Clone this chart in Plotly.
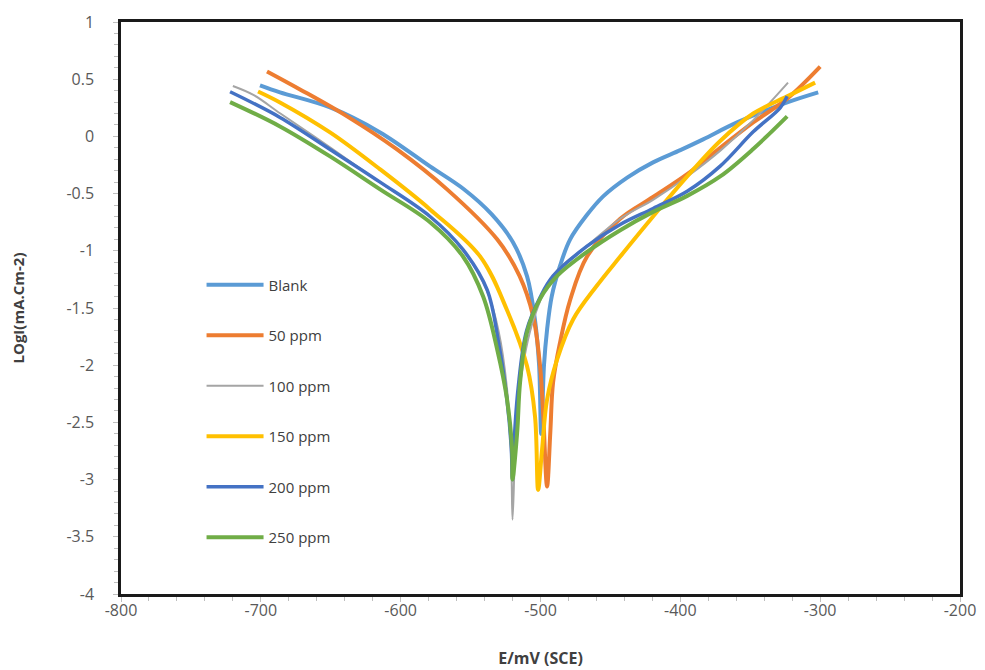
import plotly.graph_objects as go

names = ["Blank", "50 ppm", "100 ppm", "150 ppm", "200 ppm", "250 ppm"]
colors = ["#5B9BD5", "#ED7D31", "#A5A5A5", "#FFC000", "#4472C4", "#70AD47"]
widths = [4, 4, 2, 4, 3.5, 4]

x_ticks = [-800, -700, -600, -500, -400, -300, -200]
x_labels = ["-800", "-700", "-600", "-500", "-400", "-300", "-200"]
y_ticks = [1, 0.5, 0, -0.5, -1, -1.5, -2, -2.5, -3, -3.5, -4]
y_labels = ["1", "0.5", "0", "-0.5", "-1", "-1.5", "-2", "-2.5", "-3", "-3.5", "-4"]

blank_E = [-700.6, -686.3, -650.5, -614.7, -579, -555, -535, -519.6, -509.6, -504, -501, -499.5,
           -497.5, -495.3, -492, -486, -478.8, -467, -455.2, -438, -419.5, -400, -383.7, -359.4, -323.6, -301.4]
blank_L = [0.446, 0.385, 0.253, 0.035, -0.262, -0.46, -0.68, -0.927, -1.224, -1.6, -2.0, -2.6,
           -2.0, -1.69, -1.40, -1.13, -0.90, -0.69, -0.524, -0.36, -0.227, -0.12, -0.026, 0.122, 0.297, 0.385]

p50_E = [-695.6, -672, -638.3, -602.6, -566.8, -531, -515, -505.3, -500.3, -498, -495.3,
         -493, -491, -486, -478.8, -466.7, -443, -419.5, -395.1, -371.5, -347.9, -323.6, -300]
p50_L = [0.568, 0.411, 0.175, -0.114, -0.463, -0.9, -1.22, -1.57, -2.01, -2.45, -3.06,
         -2.59, -2.15, -1.80, -1.43, -1.05, -0.72, -0.53, -0.33, -0.10, 0.122, 0.33, 0.61]

p100_E = [-720, -705, -686, -650, -615, -579, -555, -538, -530, -524, -521, -520,
          -518, -515, -505, -490, -466, -443, -419, -395, -371, -348, -323]
p100_L = [0.44, 0.36, 0.20, -0.10, -0.40, -0.70, -1.0, -1.36, -1.7, -2.2, -2.8, -3.35,
          -2.7, -2.2, -1.6, -1.2, -0.95, -0.72, -0.55, -0.35, -0.12, 0.14, 0.47]

p150_E = [-702, -686.3, -650.5, -614.7, -579, -543.2, -523.9, -509.6, -503.9, -501.7,
          -498.9, -495.3, -488.1, -476.7, -460, -443, -419.5, -395.1, -371.5, -347.9, -323.6, -303.6]
p150_L = [0.393, 0.297, 0.035, -0.288, -0.638, -1.049, -1.52, -2.01, -2.45, -3.09,
          -2.74, -2.30, -1.95, -1.60, -1.31, -1.05, -0.70, -0.35, -0.04, 0.20, 0.35, 0.47]

p200_E = [-722, -686.3, -650.5, -614.7, -579, -555.4, -538.2, -530, -524, -521, -520,
          -519, -516, -510, -500, -491, -466.7, -443, -419.5, -395.1, -371.5, -347.9, -328.6, -323.6]
p200_L = [0.39, 0.166, -0.114, -0.40, -0.70, -0.99, -1.34, -1.8, -2.3, -2.7, -3.0,
          -2.7, -2.2, -1.7, -1.4, -1.22, -0.96, -0.77, -0.63, -0.48, -0.26, 0.04, 0.25, 0.35]

p250_E = [-722, -686.3, -650.5, -614.7, -579, -555.4, -541, -531, -523.9, -520.3, -520,
          -516.7, -514.6, -509.6, -500.3, -488.1, -466.7, -443, -419.5, -395.1, -371.5, -347.9, -323.6]
p250_L = [0.30, 0.087, -0.175, -0.463, -0.75, -1.05, -1.40, -1.86, -2.30, -2.74, -3.0,
          -2.59, -2.15, -1.71, -1.42, -1.22, -1.01, -0.82, -0.66, -0.52, -0.35, -0.11, 0.175]

series_E = [blank_E, p50_E, p100_E, p150_E, p200_E, p250_E]
series_L = [blank_L, p50_L, p100_L, p150_L, p200_L, p250_L]

fig = go.Figure()
for i, name in enumerate(names):
    fig.add_trace(go.Scatter(
        x=series_E[i], y=series_L[i], mode="lines", name=name,
        legendgroup=name,
        line=dict(color=colors[i], width=widths[i], shape="spline", smoothing=1.0),
    ))

font_main = "Open Sans, Liberation Sans, sans-serif"
fig.update_layout(
    width=977, height=662,
    margin=dict(l=113, r=25, t=14, b=76),
    paper_bgcolor="white", plot_bgcolor="white",
    font=dict(family=font_main, color="#595959", size=16),
    legend=dict(x=0.096, y=0.569, xanchor="left", yanchor="top",
                bgcolor="rgba(0,0,0,0)", tracegroupgap=28, itemwidth=57,
                font=dict(size=15, color="#404040")),
    showlegend=True,
)
fig.update_xaxes(
    range=[-800, -200], tickvals=x_ticks, ticktext=x_labels,
    showgrid=False, zeroline=False, automargin=False,
    showline=True, linecolor="#1a1a1a", linewidth=2.5, mirror=True,
    ticks="outside", ticklen=5, tickcolor="#bfbfbf", tickwidth=1,
    minor=dict(dtick=20, tick0=-800, ticks="outside", ticklen=4, tickcolor="#bfbfbf", showgrid=False),
    tickfont=dict(size=16, color="#595959"),
    ticklabelstandoff=-5,
    title=dict(text="<b>E/mV (SCE)</b>", font=dict(size=16, color="#404040"), standoff=33),
)
fig.update_yaxes(
    range=[-4, 1], tickvals=y_ticks, ticktext=y_labels,
    showgrid=False, zeroline=False, automargin=False,
    showline=True, linecolor="#1a1a1a", linewidth=2.5, mirror=True,
    ticks="outside", ticklen=5, tickcolor="#bfbfbf", tickwidth=1,
    minor=dict(dtick=0.1, tick0=-4, ticks="outside", ticklen=4, tickcolor="#bfbfbf", showgrid=False),
    tickfont=dict(size=16, color="#595959"),
    ticklabelstandoff=16,
    title=dict(text="<b>LOgI(mA.Cm-2)</b>", font=dict(size=15, color="#404040"), standoff=42),
)

fig.write_html("out.html")
